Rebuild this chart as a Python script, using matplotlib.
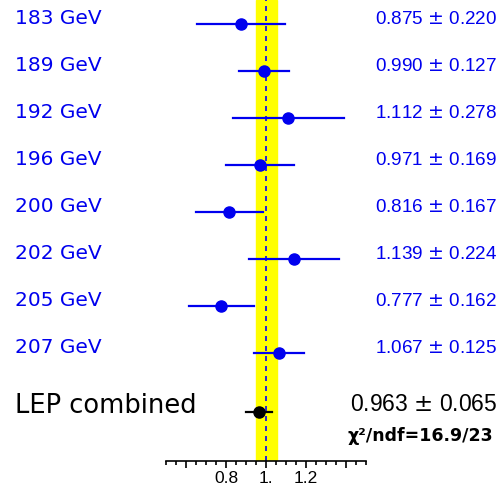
import numpy as np
import matplotlib.pyplot as plt

energies = ["183 GeV", "189 GeV", "192 GeV", "196 GeV", "200 GeV", "202 GeV", "205 GeV", "207 GeV"]
values = [0.875, 0.990, 1.112, 0.971, 0.816, 1.139, 0.777, 1.067]
errors = [0.220, 0.127, 0.278, 0.169, 0.167, 0.224, 0.162, 0.125]
comb_value = 0.963
comb_error = 0.065
band_lo, band_hi = 0.95, 1.053
chi2_text = "χ²/ndf=16.9/23"

W, H = 503, 487
fig = plt.figure(figsize=(W / 100, H / 100), dpi=100)

# axes placed so x=0.5..1.5 maps to pixels 166..366, bottom spine at y=461
x0, x1 = 166, 366
ybot = 461
ax = fig.add_axes([x0 / W, (H - ybot) / H, (x1 - x0) / W, ybot / H])
ax.set_xlim(0.5, 1.5)
row_h = 47.0
ax.set_ylim((ybot - 24) / row_h, -24 / row_h)

for s in ["left", "right", "top"]:
    ax.spines[s].set_visible(False)
ax.spines["bottom"].set_linewidth(1.2)
ax.set_yticks([])
ax.set_xticks([0.6, 0.8, 1.0, 1.2, 1.4])
ax.set_xticklabels(["", "0.8", "1.", "1.2", ""], family="Liberation Sans")
ax.set_xticks(np.arange(0.5, 1.501, 0.05), minor=True)
ax.tick_params(axis="x", which="major", length=5, width=1.2, labelsize=12.5, pad=2)
ax.tick_params(axis="x", which="minor", length=3, width=1.2)
ax.set_facecolor("none")

# SM band and reference line
ax.axvspan(band_lo, band_hi, color="#ffff00", zorder=0)
ax.axvline(1.0, color="#0000ff", lw=1.2, ls=(0, (3, 3)), zorder=1)

xl, xr = -0.255, 2.155
for i, (lab, v, e) in enumerate(zip(energies, values, errors)):
    ax.plot([v - e, v + e], [i, i], color="#0000ee", lw=1.6, zorder=3, clip_on=False)
    ax.plot(v, i, "o", color="#0000ee", ms=8, zorder=4, clip_on=False)
    ax.text(xl, i - 0.12, lab, color="#0000ee", fontsize=14.5, ha="left", va="center",
            clip_on=False)
    ax.text(xr, i - 0.1, f"{v:.3f} $\\pm$ {e:.3f}", color="#0000ee", fontsize=13.6,
            ha="right", va="center", clip_on=False, family="Liberation Sans")

yc = (412 - 24) / row_h
ax.plot([comb_value - comb_error, comb_value + comb_error], [yc, yc], color="black", lw=1.6, zorder=3)
ax.plot(comb_value, yc, "o", color="black", ms=8, zorder=4)
ax.text(xl, yc - 0.12, "LEP combined", color="black", fontsize=18.5, ha="left", va="center",
        clip_on=False)
ax.text(xr, yc - 0.15, f"{comb_value:.3f} $\\pm$ {comb_error:.3f}", color="black", fontsize=16.5,
        ha="right", va="center", clip_on=False, family="Liberation Sans")
ax.text(2.135, yc + 0.52, chi2_text, color="black", fontsize=12.5, fontweight="bold",
        ha="right", va="center", clip_on=False)

fig.savefig("out.png", dpi=100)
